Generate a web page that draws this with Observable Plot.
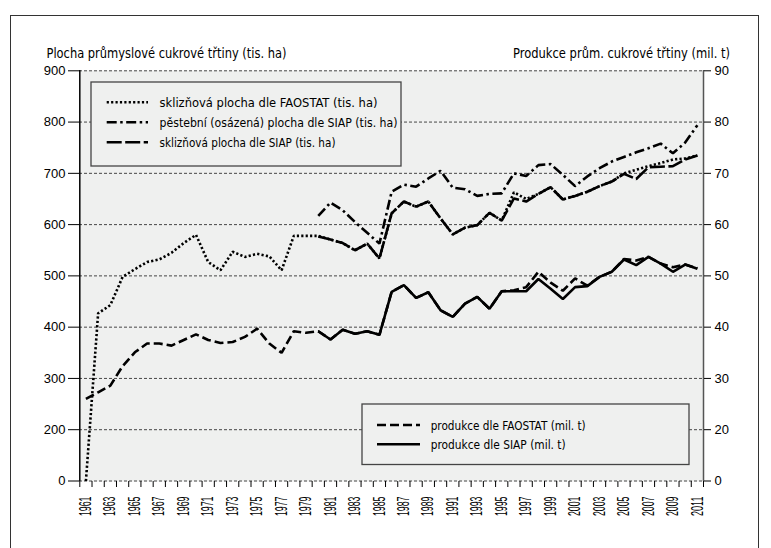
<!DOCTYPE html>
<html><head><meta charset="utf-8">
<script src="https://cdn.jsdelivr.net/npm/d3@7"></script>
<script src="https://cdn.jsdelivr.net/npm/@observablehq/plot@0.6"></script>
<style>
body{margin:0;background:#fff;}
#wrap{position:relative;width:771px;height:548px;overflow:hidden;}
#frame{position:absolute;left:10px;top:15px;width:749px;height:600px;border:1.5px solid #333;box-sizing:border-box;}
#chart{position:absolute;left:0;top:0;}
</style></head><body>
<div id="wrap"><div id="frame"></div><div id="chart"></div></div>
<script>
// ---- data ----
const years = [1961,1962,1963,1964,1965,1966,1967,1968,1969,1970,1971,1972,1973,1974,1975,1976,1977,1978,1979,1980,
  1981,1982,1983,1984,1985,1986,1987,1988,1989,1990,1991,1992,1993,1994,1995,1996,1997,1998,1999,2000,
  2001,2002,2003,2004,2005,2006,2007,2008,2009,2010,2011];
const siapYears = [1980,1981,1982,1983,1984,1985,1986,1987,1988,1989,1990,1991,1992,1993,1994,1995,1996,1997,1998,1999,2000,
  2001,2002,2003,2004,2005,2006,2007,2008,2009,2010,2011];
// harvested area FAOSTAT (tis. ha)
const faoArea = [0,427,443,498,513,527,532,545,564,580,527,511,547,537,543,538,511,578,578,578,
  571,564,550,563,534,622,645,635,645,612,581,594,599,623,608,663,650,660,673,649,
  656,664,675,684,700,707,714,720,727,729,735];
// planted area SIAP (tis. ha)
const siapPlanted = [617,643,628,605,584,563,664,678,674,690,705,672,669,656,660,661,700,695,716,718,697,
  675,694,710,723,732,741,749,758,739,760,794];
// harvested area SIAP (tis. ha)
const siapHarvested = [577,571,564,550,563,534,622,645,635,645,612,581,594,599,623,608,651,645,660,673,649,
  656,664,675,684,699,689,712,713,714,727,735];
// production FAOSTAT (mil. t)
const faoProd = [26.0,27.3,28.6,32.4,35.1,36.8,36.8,36.4,37.5,38.6,37.5,36.9,37.1,38.1,39.7,36.8,35.0,39.2,38.9,39.2,
  37.6,39.5,38.7,39.2,38.5,46.9,48.2,45.7,46.8,43.3,42.0,44.6,45.9,43.6,47.0,47.2,47.8,50.8,48.7,47.1,
  49.5,48.1,49.8,50.8,53.3,53.0,53.7,52.4,51.7,52.2,51.5];
// production SIAP (mil. t)
const siapProd = [39.2,37.6,39.5,38.7,39.2,38.5,46.9,48.2,45.7,46.8,43.3,42.0,44.6,45.9,43.6,47.0,47.0,47.0,49.4,47.5,45.5,
  47.8,48.0,49.8,50.8,53.2,52.1,53.7,52.4,50.8,52.2,51.4];

const leftTicks = [0,200,300,400,500,600,700,800,900];
const rightTicks = [0,20,30,40,50,60,70,80,90];
const yearLabels = years.filter(y => y % 2 === 1);

const leftTitle = "Plocha průmyslové cukrové třtiny (tis. ha)";
const rightTitle = "Produkce prům. cukrové třtiny (mil. t)";
const legendTop = [
  {label:"sklizňová plocha dle FAOSTAT (tis. ha)", key:"faoArea"},
  {label:"pěstební (osázená) plocha dle SIAP (tis. ha)", key:"siapPlanted"},
  {label:"sklizňová plocha dle SIAP (tis. ha)", key:"siapHarvested"}
];
const legendBottom = [
  {label:"produkce dle FAOSTAT (mil. t)", key:"faoProd"},
  {label:"produkce dle SIAP (mil. t)", key:"siapProd"}
];

// ---- styles ----
const FONT = "'Liberation Sans Narrow','DejaVu Sans Condensed','Roboto Condensed','Liberation Sans',sans-serif";
const NUMFONT = "'Liberation Sans',Arial,sans-serif";
const BG = "#eff0ef";
const styles = {
  faoArea:      {dash:"2.2,2.2", width:2.6},
  siapPlanted:  {dash:"10,3.5,2.5,3.5", width:2.6},
  siapHarvested:{dash:"15,3.5", width:2.6},
  faoProd:      {dash:"9,4", width:2.6},
  siapProd:     {dash:null, width:2.6}
};

// ---- tables ----
const tFaoArea = years.map((year,i)=>({year, v: faoArea[i]}));
const tPlanted = siapYears.map((year,i)=>({year, v: siapPlanted[i]}));
const tHarv = siapYears.map((year,i)=>({year, v: siapHarvested[i]}));
const tFaoProd = years.map((year,i)=>({year, v: faoProd[i]*10}));
const tSiapProd = siapYears.map((year,i)=>({year, v: siapProd[i]*10}));
const boundaries = years.map(y => y - 0.5).concat([years[years.length-1] + 0.5]);

const lineOpts = (k) => ({x:"year", y:"v", stroke:"#000", strokeWidth:styles[k].width,
  strokeDasharray: styles[k].dash, strokeLinejoin:"miter", strokeLinecap:"butt"});

const chart = Plot.plot({
  width: 771, height: 548,
  marginLeft: 79, marginRight: 68, marginTop: 70, marginBottom: 67,
  x: {domain: [1960.5, 2011.5], range: [79.3, 703], axis: null, label: null},
  y: {type: "linear", domain: [0, 200, 900], range: [480.5, 429.2, 70.3], axis: null, label: null},
  style: {fontFamily: NUMFONT, fontSize: "13px", color: "#000", background: "transparent", overflow: "visible"},
  marks: [
    Plot.frame({fill: BG, stroke: null}),
    Plot.ruleY(leftTicks, {stroke: "#333", strokeWidth: 0.9, strokeDasharray: "3,2"}),
    Plot.ruleX([1960.5], {stroke: "#000", strokeWidth: 1.5}),
    Plot.ruleX([2011.5], {stroke: "#555", strokeWidth: 1.5}),
    Plot.axisY(leftTicks, {anchor: "left", label: null, tickSize: 11, tickPadding: 3, fontSize: 13, fontFamily: NUMFONT, tickFormat: d => String(d)}),
    Plot.axisY(rightTicks.map(d => d*10), {anchor: "right", label: null, tickSize: 7, tickPadding: 4, fontSize: 13, fontFamily: NUMFONT, tickFormat: d => String(d/10)}),
    Plot.axisX(boundaries, {anchor: "bottom", label: null, tickSize: 6, tickFormat: () => ""}),
    Plot.axisX(yearLabels, {anchor: "bottom", label: null, tickSize: 0, tickPadding: 15, tickRotate: -90, fontSize: 16, fontFamily: NUMFONT, tickFormat: d => String(d)}),
    Plot.line(tFaoArea, lineOpts("faoArea")),
    Plot.line(tPlanted, lineOpts("siapPlanted")),
    Plot.line(tHarv, lineOpts("siapHarvested")),
    Plot.line(tFaoProd, lineOpts("faoProd")),
    Plot.line(tSiapProd, lineOpts("siapProd"))
  ]
});
document.getElementById("chart").appendChild(chart);

const svg = d3.select(chart);
// compress year labels like the reference
svg.selectAll('g[aria-label="x-axis tick label"] text').filter(function(){return this.textContent.length > 0;})
  .attr("textLength", 19.5).attr("lengthAdjust", "spacingAndGlyphs");

// axis titles
svg.append("text").attr("x", 46.5).attr("y", 57.5).attr("text-anchor", "start").attr("font-family", FONT).attr("font-size", 14)
  .attr("textLength", 240).attr("lengthAdjust", "spacingAndGlyphs").text(leftTitle);
svg.append("text").attr("x", 730).attr("y", 57.5).attr("text-anchor", "end").attr("font-family", FONT).attr("font-size", 14)
  .attr("textLength", 217).attr("lengthAdjust", "spacingAndGlyphs").text(rightTitle);

function legend(items, box, sample, textX, rowY, widths) {
  const g = svg.append("g");
  g.append("rect").attr("x", box[0]).attr("y", box[1]).attr("width", box[2]-box[0]).attr("height", box[3]-box[1])
    .attr("fill", BG).attr("stroke", "#444").attr("stroke-width", 1.3);
  items.forEach((it, i) => {
    const y = rowY[i];
    const s = styles[it.key];
    g.append("line").attr("x1", sample[0]).attr("x2", sample[1]).attr("y1", y).attr("y2", y)
      .attr("stroke", "#000").attr("stroke-width", s.width).attr("stroke-dasharray", s.dash);
    g.append("text").attr("x", textX).attr("y", y).attr("dy", "0.35em").attr("text-anchor", "start")
      .attr("font-family", FONT).attr("font-size", 13)
      .attr("textLength", widths[i]).attr("lengthAdjust", "spacingAndGlyphs").text(it.label);
  });
}
legend(legendTop, [91, 82, 401, 166], [106.7, 148], 159.5, [102.3, 122.3, 142.3], [218, 238, 176]);
legend(legendBottom, [362, 404, 689, 464.5], [377, 420], 430.7, [425, 444.3], [155, 135]);
</script>
</body></html>
